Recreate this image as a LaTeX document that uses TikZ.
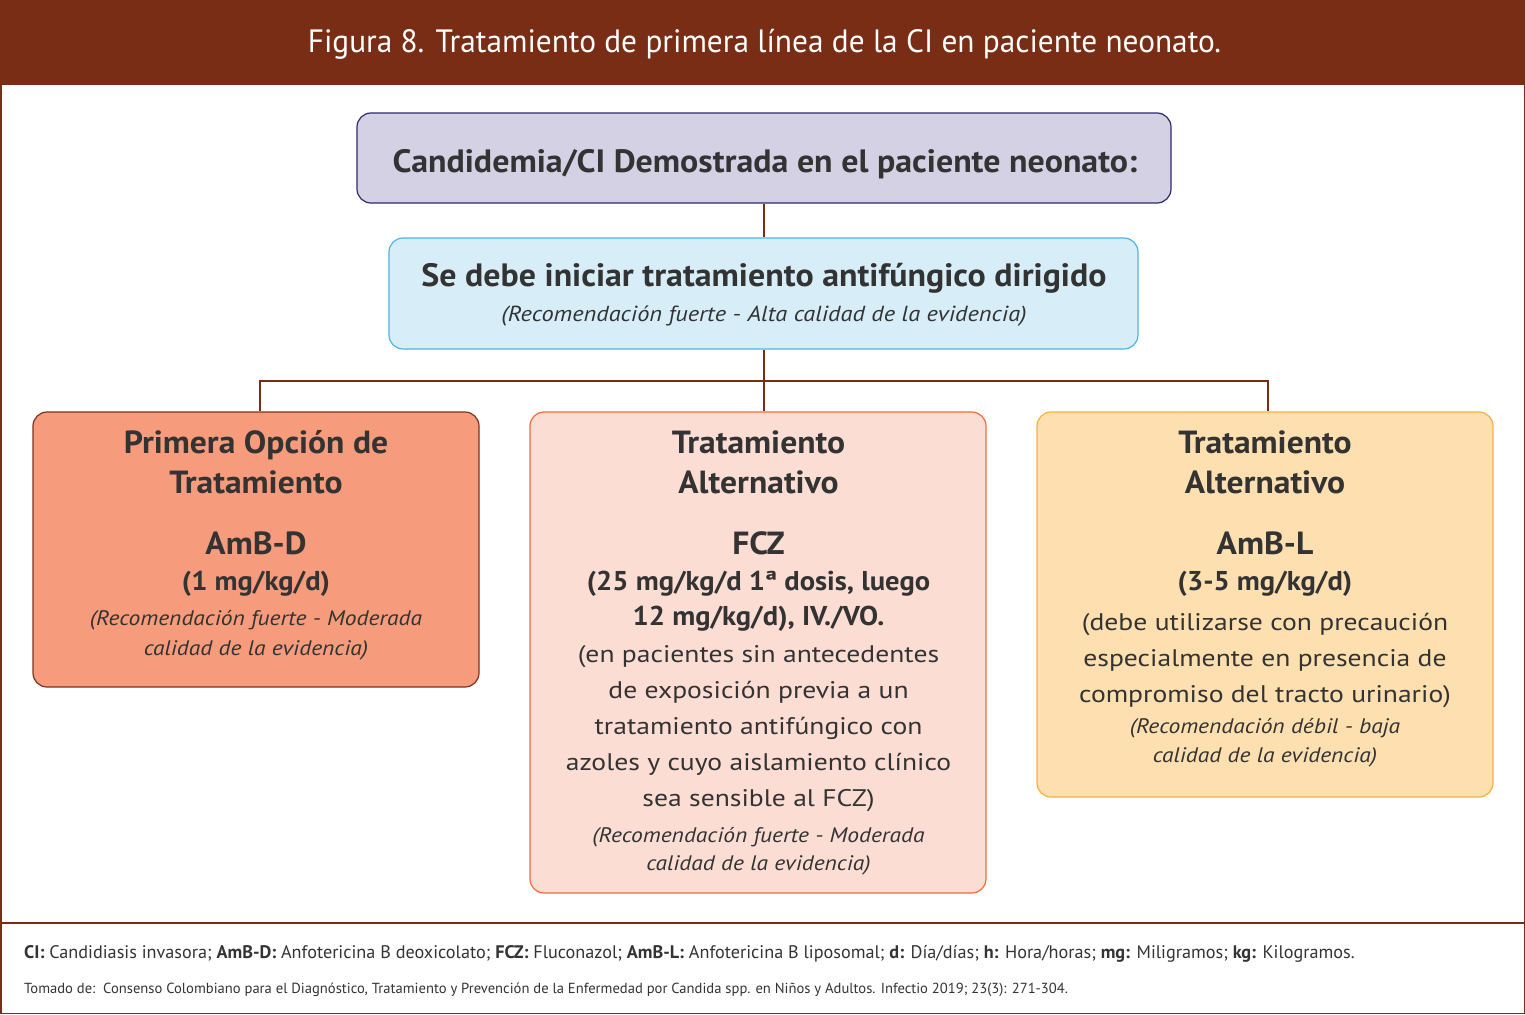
\documentclass[tikz,border=0pt]{standalone}
\usepackage{fontspec}
\setmainfont{PT Sans}
\newfontfamily\fbold{PT Sans}[FakeStretch=1.05]
\newfontfamily\freg{PT Sans}[FakeStretch=1.15]
\newfontfamily\fital{PT Sans}[FakeStretch=1.12]
\newfontfamily\ftitle{PT Sans}[FakeStretch=0.97]
\definecolor{brownc}{RGB}{122,45,21}
\definecolor{txtc}{RGB}{51,51,51}
\definecolor{b1fill}{RGB}{211,209,227}
\definecolor{b1draw}{RGB}{46,42,110}
\definecolor{b2fill}{RGB}{215,238,249}
\definecolor{b2draw}{RGB}{76,183,229}
\definecolor{lfill}{RGB}{246,155,123}
\definecolor{ldraw}{RGB}{126,50,25}
\definecolor{mfill}{RGB}{252,221,212}
\definecolor{mdraw}{RGB}{242,107,58}
\definecolor{rfill}{RGB}{253,223,176}
\definecolor{rdraw}{RGB}{246,176,64}
\newcommand\fBig{\fbold\bfseries\fontsize{32.3}{38}\selectfont}
\newcommand\fHead{\fbold\bfseries\fontsize{32}{38}\selectfont}
\newcommand\fDose{\fbold\bfseries\fontsize{27.2}{32}\selectfont}
\newcommand\fReg{\freg\fontsize{24}{29}\selectfont}
\newcommand\fIt{\fital\itshape\fontsize{21}{25}\selectfont}
\begin{document}
\begin{tikzpicture}[x=1pt,y=-1pt,
  box/.style={draw,rounded corners=14pt,line width=1.2pt,inner sep=0pt},
  txt/.style={anchor=base,inner sep=0pt,text=txtc},
  link/.style={draw=brownc,line width=2pt}]
\useasboundingbox (0,0) rectangle (1525,1014);
% frame and header
\fill[brownc] (0,0) rectangle (1525,85);
\draw[brownc,line width=1.5pt] (0.75,0.75) rectangle (1524.25,1013.25);
\draw[brownc,line width=1.3pt] (0,923) -- (1525,923);
\node[anchor=base,inner sep=0pt,text=white,font=\ftitle\fontsize{32.3}{38}\selectfont] (title) at (764.5,53) {Figura 8. Tratamiento de primera línea de la CI en paciente neonato.};
% boxes
\node[box,fill=b1fill,draw=b1draw,minimum width=814pt,minimum height=90pt] (b1) at (764,158) {};
\node[box,fill=b2fill,draw=b2draw,minimum width=749pt,minimum height=111pt] (b2) at (763.5,293.5) {};
\node[box,fill=lfill,draw=ldraw,minimum width=446pt,minimum height=275pt] (bl) at (256,549.5) {};
\node[box,fill=mfill,draw=mdraw,minimum width=456pt,minimum height=481pt] (bm) at (758,652.5) {};
\node[box,fill=rfill,draw=rdraw,minimum width=456pt,minimum height=385pt] (br) at (1265,604.5) {};
% connectors
\coordinate (jn) at (764,381);
\path[link] (b1.south) -- (b1.south |- b2.north);
\path[link] (b1.south |- b2.south) -- (b1.south |- bm.north);
\path[link] (jn) -| ([xshift=4pt]bl.north);
\path[link] (jn) -| ([xshift=3pt]br.north);
% box 1 and 2 text
\node[txt,font=\fBig] (t1) at (765,172) {Candidemia/CI Demostrada en el paciente neonato:};
\node[txt,font=\fBig] (t2a) at (764,286) {Se debe iniciar tratamiento antifúngico dirigido};
\node[txt,font=\fital\itshape\fontsize{21.8}{25}\selectfont] (t2b) at (764,321) {(Recomendación fuerte - Alta calidad de la evidencia)};
% left box text
\node[txt,font=\fHead] (l1) at (256,453) {Primera Opción de};
\node[txt,font=\fHead] (l2) at (256,493) {Tratamiento};
\node[txt,font=\fHead] (l3) at (256,554) {AmB-D};
\node[txt,font=\fDose] (l4) at (256,590) {(1 mg/kg/d)};
\node[txt,font=\fIt] (l5) at (256,625) {(Recomendación fuerte - Moderada};
\node[txt,font=\fIt] (l6) at (256,655) {calidad de la evidencia)};
% middle box text
\node[txt,font=\fHead] (m1) at (758.5,453) {Tratamiento};
\node[txt,font=\fHead] (m2) at (758.5,493) {Alternativo};
\node[txt,font=\fHead] (m3) at (758.5,554) {FCZ};
\node[txt,font=\fDose] (m4) at (758.5,590) {(25 mg/kg/d 1ª dosis, luego};
\node[txt,font=\fDose] (m5) at (758.5,625) {12 mg/kg/d), IV./VO.};
\node[txt,font=\fReg] (m6) at (758.5,662) {(en pacientes sin antecedentes};
\node[txt,font=\fReg] (m7) at (758.5,698) {de exposición previa a un};
\node[txt,font=\fReg] (m8) at (758.5,734) {tratamiento antifúngico con};
\node[txt,font=\fReg] (m9) at (758.5,770) {azoles y cuyo aislamiento clínico};
\node[txt,font=\fReg] (m10) at (758.5,806) {sea sensible al FCZ)};
\node[txt,font=\fIt] (m11) at (758.5,842) {(Recomendación fuerte - Moderada};
\node[txt,font=\fIt] (m12) at (758.5,870) {calidad de la evidencia)};
% right box text
\node[txt,font=\fHead] (r1) at (1265,453) {Tratamiento};
\node[txt,font=\fHead] (r2) at (1265,493) {Alternativo};
\node[txt,font=\fHead] (r3) at (1265,554) {AmB-L};
\node[txt,font=\fDose] (r4) at (1265,590) {(3-5 mg/kg/d)};
\node[txt,font=\fReg] (r5) at (1265,630) {(debe utilizarse con precaución};
\node[txt,font=\fReg] (r6) at (1265,666) {especialmente en presencia de};
\node[txt,font=\fReg] (r7) at (1265,702) {compromiso del tracto urinario)};
\node[txt,font=\fIt] (r8) at (1265,733) {(Recomendación débil - baja};
\node[txt,font=\fIt] (r9) at (1265,762) {calidad de la evidencia)};
% footer
\node[anchor=base west,inner sep=0pt,text=txtc,font=\fontsize{18.2}{22}\selectfont] (f1) at (24,958) {{\bfseries CI:} Candidiasis invasora; {\bfseries AmB-D:} Anfotericina B deoxicolato; {\bfseries FCZ:} Fluconazol; {\bfseries AmB-L:} Anfotericina B liposomal; {\bfseries d:} Día/días; {\bfseries h:} Hora/horas; {\bfseries mg:} Miligramos; {\bfseries kg:} Kilogramos.};
\node[anchor=base west,inner sep=0pt,text=txtc,font=\fontsize{14.6}{18}\selectfont] (f2) at (24,993) {Tomado de:\ \ Consenso Colombiano para el Diagnóstico, Tratamiento y Prevención de la Enfermedad por Candida spp. en Niños y Adultos. Infectio 2019; 23(3): 271-304.};
\end{tikzpicture}
\end{document}
